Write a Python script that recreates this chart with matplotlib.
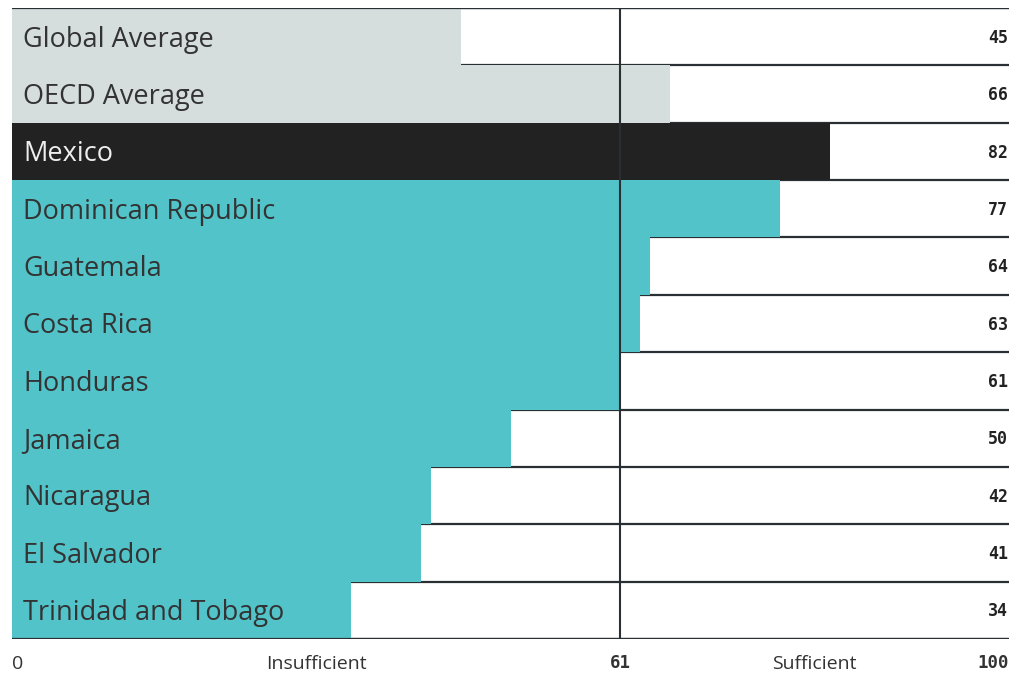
import matplotlib
matplotlib.use("Agg")
import matplotlib.pyplot as plt

# datos
paises = ["Global Average", "OECD Average", "Mexico", "Dominican Republic",
          "Guatemala", "Costa Rica", "Honduras", "Jamaica", "Nicaragua",
          "El Salvador", "Trinidad and Tobago"]
valores = [45, 66, 82, 77, 64, 63, 61, 50, 42, 41, 34]
tipo = ["avg", "avg", "mx", "lat", "lat", "lat", "lat", "lat", "lat", "lat", "lat"]
umbral = 61
maximo = 100

cores = {"avg": "#d5dedd", "mx": "#222222", "lat": "#53c3ca"}
cor_texto = {"avg": "#333333", "mx": "#eeeeee", "lat": "#333333"}
cor_linha = "#2a2f33"
fonte = "Open Sans"

fig = plt.figure(figsize=(10.23, 6.75), dpi=100)
ax = fig.add_axes([12 / 1023, 36 / 675, 997 / 1023, 631 / 675])

n = len(paises)
ax.set_xlim(0, maximo)
ax.set_ylim(n, 0)

# linhas de separação (abaixo das barras)
for i in range(n + 1):
    ax.axhline(i, color=cor_linha, lw=1.6, zorder=1)

for i, (p, v, t) in enumerate(zip(paises, valores, tipo)):
    ax.barh(i + 0.5, v, height=1.0, color=cores[t], zorder=2, linewidth=0)
    ax.text(1.1, i + 0.55, p, va="center", ha="left", fontsize=19.5,
            family=fonte, color=cor_texto[t], zorder=4)
    ax.text(99.9, i + 0.52, str(v), va="center", ha="right", fontsize=12,
            family="DejaVu Sans Mono", fontweight="bold", color="#222222", zorder=4)

# topo e base visíveis
ax.axhline(0, color=cor_linha, lw=1.6, zorder=3)
ax.axhline(n, color=cor_linha, lw=1.6, zorder=3)
ax.axvline(umbral, color=cor_linha, lw=1.5, zorder=3)

# eixo inferior
y_rot = n + 0.44
ax.text(0, y_rot, "0", ha="left", va="center", fontsize=14, family=fonte,
        color="#333333", clip_on=False)
ax.text(umbral / 2, y_rot, "Insufficient", ha="center", va="center", fontsize=14,
        family=fonte, color="#333333", clip_on=False)
ax.text(umbral, n + 0.42, str(umbral), ha="center", va="center", fontsize=12.5,
        family="DejaVu Sans Mono", fontweight="bold", color="#333333", clip_on=False)
ax.text((umbral + maximo) / 2, y_rot, "Sufficient", ha="center", va="center",
        fontsize=14, family=fonte, color="#333333", clip_on=False)
ax.text(maximo, n + 0.42, str(maximo), ha="right", va="center", fontsize=12.5,
        family="DejaVu Sans Mono", fontweight="bold", color="#333333", clip_on=False)

ax.axis("off")
fig.savefig("out.png", dpi=100, facecolor="white")
